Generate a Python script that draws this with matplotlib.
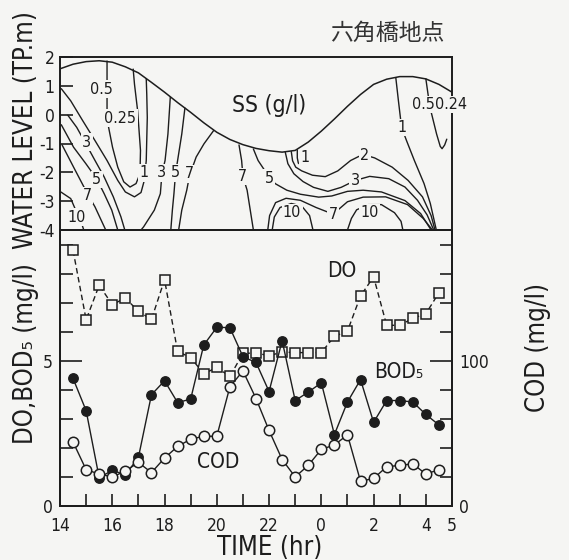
import matplotlib
matplotlib.use("Agg")
import matplotlib.pyplot as plt
from matplotlib import font_manager

# ---------------- water quality, sampled every 30 min ----------------
sample_time = [14.5, 15.0, 15.5, 16.0, 16.5, 17.0, 17.5, 18.0, 18.5, 19.0,
               19.5, 20.0, 20.5, 21.0, 21.5, 22.0, 22.5, 23.0, 23.5, 24.0,
               24.5, 25.0, 25.5, 26.0, 26.5, 27.0, 27.5, 28.0, 28.5]
do_mg_l = [8.80, 6.41, 7.60, 6.93, 7.16, 6.70, 6.42, 7.79, 5.32, 5.11,
           4.55, 4.77, 4.46, 5.25, 5.27, 5.17, 5.30, 5.28, 5.28, 5.28,
           5.84, 6.02, 7.23, 7.89, 6.22, 6.22, 6.46, 6.62, 7.34]
bod5_mg_l = [4.39, 3.28, 0.97, 1.23, 1.07, 1.67, 3.83, 4.31, 3.56, 3.68,
             5.54, 6.15, 6.14, 5.14, 4.94, 3.94, 5.69, 3.63, 3.92, 4.24,
             2.46, 3.58, 4.35, 2.88, 3.63, 3.63, 3.58, 3.15, 2.79]
cod_mg_l = [44, 25, 22, 20, 24, 30, 23, 33, 41, 46,
            48, 48, 82, 93, 74, 52, 32, 20, 28, 39,
            42, 49, 17, 19, 27, 28, 29, 22, 25]

# time axis ticks (hours since midnight of the first day)
hour_ticks = list(range(14, 30))
hour_labels = {14: "14", 16: "16", 18: "18", 20: "20", 22: "22",
               24: "0", 26: "2", 28: "4", 29: "5"}

# ---------------- water level (TP.m) ----------------
level_time = [14.0, 14.5, 15.0, 15.5, 16.0, 16.5, 17.0, 17.5, 18.0, 18.5,
              19.0, 19.5, 20.0, 20.5, 21.0, 21.5, 22.0, 22.5, 23.0, 23.5,
              24.0, 24.5, 25.0, 25.5, 26.0, 26.5, 27.0, 27.5, 28.0, 28.5, 29.0]
water_level = [1.59, 1.75, 1.84, 1.87, 1.82, 1.66, 1.45, 1.12, 0.78, 0.42,
               0.08, -0.28, -0.61, -0.86, -1.04, -1.17, -1.25, -1.30, -1.24, -0.95,
               -0.57, -0.15, 0.29, 0.70, 1.05, 1.23, 1.32, 1.32, 1.24, 1.05, 0.78]

# ---------------- SS isolines (g/l), points as (time, level) ----------------
ss_1_west = [(14.05, 0.90), (14.41, 0.48), (14.87, -0.21), (15.34, -0.90),
             (15.80, -1.59), (16.21, -2.28), (16.50, -2.68), (16.85, -2.85),
             (17.10, -2.70), (17.22, -2.30), (17.30, -1.60), (17.34, -0.10),
             (17.32, 0.70), (17.30, 1.25)]
ss_025_west = [(15.80, 1.86), (15.80, 1.10), (15.80, 0.15), (15.86, -0.44),
               (16.01, -1.13), (16.21, -1.82), (16.44, -2.33), (16.68, -2.51),
               (16.91, -2.39), (17.06, -2.05), (17.08, -1.24), (16.97, 0.14),
               (16.85, 1.06), (16.80, 1.58)]
ss_3_west = [(14.30, -0.02), (14.64, -0.44), (14.99, -1.01), (15.34, -1.59),
             (15.69, -2.16), (16.04, -2.85), (16.33, -3.54), (16.48, -4.00)]
ss_5_west = [(14.05, -0.35), (14.52, -1.13), (14.99, -1.70), (15.40, -2.22),
             (15.69, -2.74), (15.98, -3.31), (16.21, -4.00)]
ss_7_west = [(14.08, -1.05), (14.52, -1.82), (15.05, -2.74), (15.34, -3.20),
             (15.75, -4.00)]
ss_10_west = [(14.03, -2.68), (14.41, -2.91), (14.62, -3.35), (14.82, -3.75),
              (14.91, -4.00)]
ss_3_mid = [(18.22, 0.60), (18.13, -0.67), (18.02, -1.59), (17.90, -2.05),
            (17.84, -2.74), (17.61, -3.31), (17.20, -3.89), (17.10, -4.00)]
ss_5_mid = [(18.78, 0.23), (18.66, -0.67), (18.54, -1.36), (18.42, -2.05),
            (18.36, -2.74), (18.30, -3.31), (18.24, -4.00)]
ss_7_mid = [(19.88, -0.55), (19.51, -1.01), (19.21, -1.47), (19.03, -1.93),
            (18.97, -2.05), (18.85, -2.62), (18.66, -3.31), (18.54, -4.00)]
ss_7_center = [(20.85, -1.05), (20.95, -1.59), (21.00, -2.14), (21.16, -2.62),
               (21.28, -3.31), (21.40, -4.00)]
ss_5_east = [(21.40, -1.19), (21.58, -1.59), (21.83, -1.93), (22.01, -2.20),
             (22.25, -2.40), (22.68, -2.62), (23.20, -2.76), (23.90, -2.86),
             (24.40, -2.82), (25.00, -2.66), (25.60, -2.62), (26.30, -2.68),
             (27.20, -2.98), (27.80, -3.43), (28.20, -4.00)]
ss_3_east = [(22.62, -1.30), (22.72, -1.70), (22.95, -2.05), (23.30, -2.32),
             (23.70, -2.52), (24.25, -2.66), (24.76, -2.52), (25.30, -2.28),
             (25.85, -2.14), (26.58, -2.22), (27.20, -2.51), (27.68, -2.97),
             (28.05, -3.48), (28.30, -4.00)]
ss_2_east = [(22.85, -1.28), (22.90, -1.60), (23.02, -1.82), (23.25, -1.95),
             (23.66, -2.10), (24.15, -2.15), (24.63, -1.95), (25.12, -1.59),
             (25.43, -1.45), (25.67, -1.40), (26.04, -1.50), (26.71, -1.82),
             (27.32, -2.28), (27.87, -2.85), (28.20, -3.50), (28.35, -4.00)]
ss_1_east_pocket = [(23.08, -1.22), (23.08, -1.50), (23.12, -1.68), (23.22, -1.74)]
ss_7_east = [(21.95, -4.00), (22.02, -3.50), (22.25, -3.05), (22.65, -2.90),
             (23.20, -2.97), (23.80, -3.22), (24.45, -3.45), (25.00, -3.02),
             (25.60, -2.86), (26.46, -2.85), (27.30, -3.12), (27.90, -3.60),
             (28.25, -4.00)]
ss_10_center = [(22.12, -4.00), (22.20, -3.55), (22.42, -3.22), (22.85, -3.08),
                (23.25, -3.17), (23.55, -3.50), (23.68, -4.00)]
ss_10_east = [(25.00, -4.00), (25.15, -3.60), (25.35, -3.30), (25.80, -3.12),
              (26.30, -3.12), (26.80, -3.40), (27.05, -3.70), (27.12, -4.00)]
ss_1_east = [(26.85, 1.28), (26.95, 0.48), (27.07, -0.44), (27.26, -0.90),
             (27.56, -1.59), (27.93, -2.39), (28.17, -3.08), (28.40, -4.00)]
ss_05_east = [(28.00, 1.24), (28.10, 0.60), (28.20, 0.10), (28.41, -0.67),
              (28.55, -1.10), (28.62, -1.18), (28.72, -1.05), (28.80, -0.85)]

ss_isolines = [ss_1_west, ss_025_west, ss_3_west, ss_5_west, ss_7_west, ss_10_west,
               ss_3_mid, ss_5_mid, ss_7_mid, ss_7_center, ss_5_east, ss_3_east,
               ss_2_east, ss_1_east_pocket, ss_7_east, ss_10_center, ss_10_east,
               ss_1_east, ss_05_east]

# isoline labels: text, time, level
ss_labels = [("0.5", 15.57, 0.89), ("0.25", 16.31, -0.12), ("3", 15.03, -0.95),
             ("5", 15.41, -2.25), ("7", 15.05, -2.80), ("10", 14.62, -3.55),
             ("1", 17.22, -2.02), ("3", 17.90, -2.02), ("5", 18.42, -2.02),
             ("7", 18.97, -2.05), ("7", 21.00, -2.14), ("5", 22.01, -2.20),
             ("1", 23.36, -1.48), ("2", 25.67, -1.42), ("3", 25.30, -2.28),
             ("7", 24.45, -3.45), ("10", 22.88, -3.40), ("10", 25.85, -3.40),
             ("1", 27.07, -0.44), ("0.5", 27.92, 0.35), ("0.24", 28.98, 0.35)]

# ---------------- styling ----------------
W, H, DPI = 569, 560, 100
BG = "#f5f5f3"
INK = "#1d1d1d"

names = {f.name for f in font_manager.fontManager.ttflist}
if "Liberation Sans Narrow" in names:
    LATIN, STRETCH = "Liberation Sans Narrow", "normal"
else:
    LATIN, STRETCH = "DejaVu Sans", "condensed"
plt.rcParams["font.family"] = [LATIN, "DejaVu Sans"]
plt.rcParams["font.stretch"] = STRETCH
plt.rcParams["axes.unicode_minus"] = False
plt.rcParams["text.color"] = INK
plt.rcParams["xtick.color"] = INK
plt.rcParams["ytick.color"] = INK

fig = plt.figure(figsize=(W / DPI, H / DPI), dpi=DPI, facecolor=BG)


def px_box(x0, y0, x1, y1):
    """Axes rectangle from pixel edges measured from the top-left corner."""
    return [x0 / W, 1 - y1 / H, (x1 - x0) / W, (y1 - y0) / H]


ax_wl = fig.add_axes(px_box(60, 57, 452, 230), facecolor=BG)
ax_q = fig.add_axes(px_box(60, 230, 452, 506), facecolor=BG)
ax_cod = ax_q.twinx()

for ax in (ax_wl, ax_q, ax_cod):
    for sp in ax.spines.values():
        sp.set_linewidth(1.4)
        sp.set_color(INK)

# ---- upper panel: water level and SS isolines ----
ax_wl.set_xlim(14, 29)
ax_wl.set_ylim(-4, 2)
ax_wl.plot(level_time, water_level, color=INK, lw=1.1, zorder=3)
for line in ss_isolines:
    ts, ls = zip(*line)
    ax_wl.plot(ts, ls, color=INK, lw=1.0, zorder=2, solid_capstyle="round")
for txt, t, lv in ss_labels:
    ax_wl.text(t, lv, txt, ha="center", va="center", fontsize=11.5, zorder=4,
               clip_on=False,
               bbox=dict(boxstyle="square,pad=0.08", fc=BG, ec="none"))
ax_wl.text(22.0, 0.32, "SS (g/l)", ha="center", va="center", fontsize=16.5)
ax_wl.set_xticks([])
ax_wl.set_yticks([-4, -3, -2, -1, 0, 1, 2])
ax_wl.tick_params(axis="y", direction="in", length=9, width=1.2,
                  labelsize=12.5, pad=4)

# ---- lower panel: DO, BOD5 and COD ----
ax_q.set_xlim(14, 29)
ax_q.set_ylim(0, 9.5)
ax_cod.set_ylim(0, 190)

ax_q.plot(sample_time, do_mg_l, color=INK, lw=1.0, ls=(0, (4, 2.5)),
          marker="s", ms=6.5, mfc=BG, mec=INK, mew=1.1, zorder=3)
ax_q.plot(sample_time, bod5_mg_l, color=INK, lw=1.0, marker="o", ms=6.8,
          mfc=INK, mec=INK, zorder=4)
ax_cod.plot(sample_time, cod_mg_l, color=INK, lw=1.0, marker="o", ms=7.5,
            mfc=BG, mec=INK, mew=1.1, zorder=4)

ax_q.set_xticks(hour_ticks)
ax_q.set_xticklabels([hour_labels.get(h, "") for h in hour_ticks])
ax_q.tick_params(axis="x", direction="in", length=9, width=1.2,
                 labelsize=12.5, pad=8)

ax_q.set_yticks([0, 5])
ax_q.set_yticks(range(1, 10), minor=True)
ax_q.tick_params(axis="y", which="major", direction="in", length=16,
                 width=1.2, labelsize=12.5, pad=5)
ax_q.tick_params(axis="y", which="minor", direction="in", length=9, width=1.2)

ax_cod.set_yticks([0, 100])
ax_cod.set_yticks(range(20, 190, 20), minor=True)
ax_cod.tick_params(axis="y", which="major", direction="in", length=16,
                   width=1.2, labelsize=12.5, pad=5)
ax_cod.tick_params(axis="y", which="minor", direction="in", length=9, width=1.2)

ax_q.text(24.8, 8.1, "DO", ha="center", va="center", fontsize=15)
ax_q.text(26.95, 4.62, "BOD₅", ha="center", va="center", fontsize=15)
ax_q.text(20.05, 1.52, "COD", ha="center", va="center", fontsize=15)

# ---- axis titles and heading ----
fig.text(26 / W, 1 - 130 / H, "WATER LEVEL (TP.m)", rotation=90,
         ha="center", va="center", fontsize=18.5)
fig.text(26 / W, 1 - 354 / H, "DO,BOD₅ (mg/l)", rotation=90,
         ha="center", va="center", fontsize=18.5)
fig.text(538 / W, 1 - 347 / H, "COD (mg/l)", rotation=90,
         ha="center", va="center", fontsize=18.5)
fig.text(270 / W, 1 - 548 / H, "TIME (hr)", ha="center", va="center",
         fontsize=18.5)
fig.text(387 / W, 1 - 33 / H, "六角橋地点", ha="center", va="center",
         fontsize=16.5, family=["Noto Sans CJK JP", "DejaVu Sans"], color="#333333")

fig.savefig("out.png", dpi=DPI, facecolor=BG)
